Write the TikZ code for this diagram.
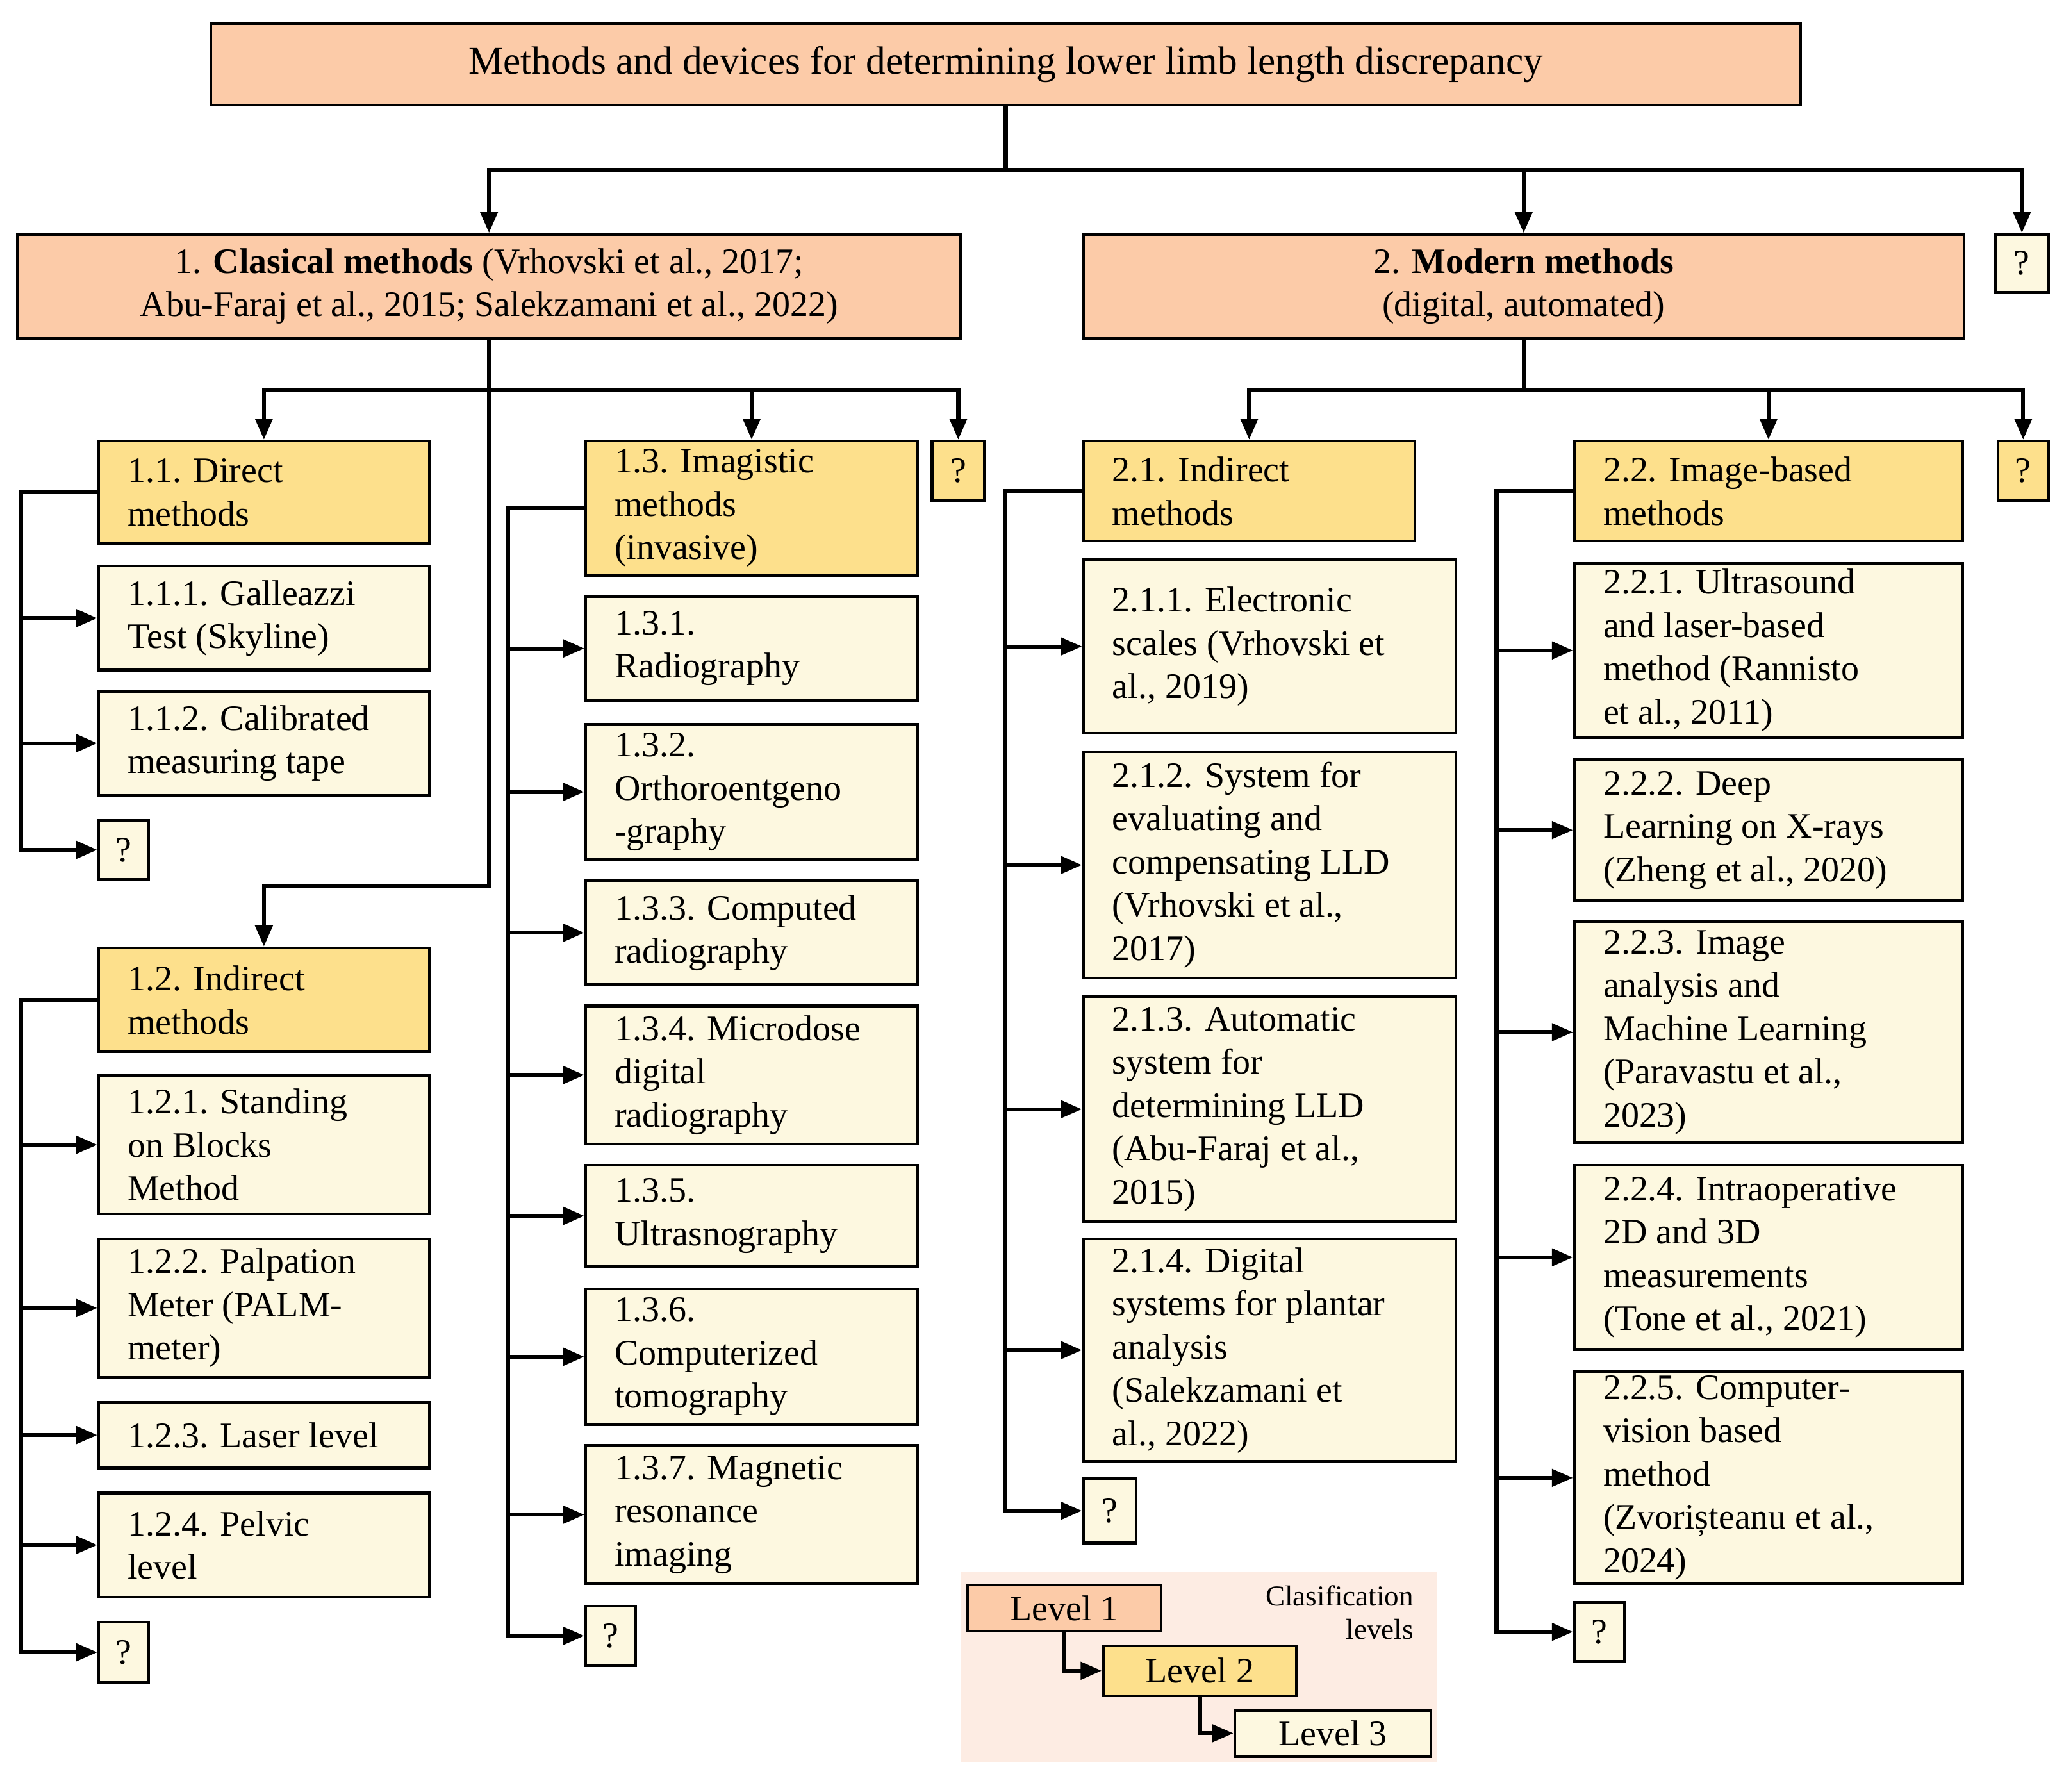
\documentclass[tikz,border=0pt]{standalone}
\usepackage{fontspec}
\setmainfont{Liberation Serif}
\usetikzlibrary{arrows.meta}
\definecolor{lone}{HTML}{FCCBA8}
\definecolor{ltwo}{HTML}{FDE08C}
\definecolor{lthree}{HTML}{FDF8E0}
\definecolor{legbg}{HTML}{FDECE3}
\tikzset{
  box/.style={rectangle,draw,line width=1.2pt,inner sep=0pt,font=\fontsize{15.5}{18.7}\selectfont},
  one/.style={box,fill=lone,align=center},
  two/.style={box,fill=ltwo,align=flush left},
  three/.style={box,fill=lthree,align=flush left},
  link/.style={line width=1.7pt},
  arr/.style={link,-{Triangle[length=0.32cm,width=0.26cm]}}
}
% name, style, x1, y1, x2, y2, text
\newcommand\bx[7]{\node[#2,minimum width={(#5-#3)*0.02cm},minimum height={(#6-#4)*0.02cm},
  text width={(#5-#3-44)*0.02cm}] (#1) at ({(#3+#5)/2},{(#4+#6)/2}) {#7};}
\newcommand\qm[6]{\node[#2,minimum width={(#5-#3)*0.02cm},minimum height={(#6-#4)*0.02cm},align=center] (#1) at ({(#3+#5)/2},{(#4+#6)/2}) {?};}

\begin{document}
\begin{tikzpicture}[x=0.02cm,y=-0.02cm]
  \useasboundingbox (0,0) rectangle (1568,1361);
  % level 1
  \node[one,minimum width={1208*0.02cm},minimum height={62*0.02cm},font=\fontsize{17}{20}\selectfont] (title) at (764,49) {Methods and devices for determining lower limb length discrepancy};
  \node[one,minimum width={717*0.02cm},minimum height={79*0.02cm}] (cl) at (371.5,217.5) {1. \textbf{Clasical methods} (Vrhovski et al., 2017;\\ Abu-Faraj et al., 2015; Salekzamani et al., 2022)};
  \node[one,minimum width={669*0.02cm},minimum height={79*0.02cm}] (mo) at (1157.5,217.5) {2. \textbf{Modern methods}\\ (digital, automated)};
  \qm{q0}{three}{1516}{178}{1556}{222}
  % level 2
  \bx{n11}{two}{75}{335}{326}{413}{1.1. Direct\\ methods}
  \bx{n12}{two}{75}{720}{326}{799}{1.2. Indirect\\ methods}
  \bx{n13}{two}{445}{335}{697}{437}{1.3. Imagistic\\ methods\\ (invasive)}
  \qm{q1}{two}{708}{335}{748}{380}
  \bx{n21}{two}{823}{335}{1075}{411}{2.1. Indirect\\ methods}
  \bx{n22}{two}{1196}{335}{1491}{411}{2.2. Image-based\\ methods}
  \qm{q2}{two}{1518}{335}{1556}{380}
  % level 3
  \bx{n111}{three}{75}{430}{326}{509}{1.1.1. Galleazzi\\ Test (Skyline)}
  \bx{n112}{three}{75}{525}{326}{604}{1.1.2. Calibrated\\ measuring tape}
  \qm{q11}{three}{75}{623}{113}{668}
  \bx{n121}{three}{75}{817}{326}{922}{1.2.1. Standing\\ on Blocks\\ Method}
  \bx{n122}{three}{75}{941}{326}{1046}{1.2.2. Palpation\\ Meter (PALM-\\ meter)}
  \bx{n123}{three}{75}{1065}{326}{1115}{1.2.3. Laser level}
  \bx{n124}{three}{75}{1134}{326}{1213}{1.2.4. Pelvic\\ level}
  \qm{q12}{three}{75}{1232}{113}{1278}
  \bx{n131}{three}{445}{453}{697}{532}{1.3.1.\\ Radiography}
  \bx{n132}{three}{445}{550}{697}{653}{1.3.2.\\ Orthoroentgeno\\ -graphy}
  \bx{n133}{three}{445}{669}{697}{748}{1.3.3. Computed\\ radiography}
  \bx{n134}{three}{445}{764}{697}{869}{1.3.4. Microdose\\ digital\\ radiography}
  \bx{n135}{three}{445}{885}{697}{962}{1.3.5.\\ Ultrasnography}
  \bx{n136}{three}{445}{979}{697}{1082}{1.3.6.\\ Computerized\\ tomography}
  \bx{n137}{three}{445}{1098}{697}{1203}{1.3.7. Magnetic\\ resonance\\ imaging}
  \qm{q13}{three}{445}{1220}{483}{1265}
  \bx{n211}{three}{823}{425}{1106}{557}{2.1.1. Electronic\\ scales (Vrhovski et\\ al., 2019)}
  \bx{n212}{three}{823}{571}{1106}{743}{2.1.2. System for\\ evaluating and\\ compensating LLD\\ (Vrhovski et al.,\\ 2017)}
  \bx{n213}{three}{823}{757}{1106}{928}{2.1.3. Automatic\\ system for\\ determining LLD\\ (Abu-Faraj et al.,\\ 2015)}
  \bx{n214}{three}{823}{941}{1106}{1110}{2.1.4. Digital\\ systems for plantar\\ analysis\\ (Salekzamani et\\ al., 2022)}
  \qm{q21}{three}{823}{1123}{863}{1172}
  \bx{n221}{three}{1196}{428}{1491}{560}{2.2.1. Ultrasound\\ and laser-based\\ method (Rannisto\\ et al., 2011)}
  \bx{n222}{three}{1196}{577}{1491}{684}{2.2.2. Deep\\ Learning on X-rays\\ (Zheng et al., 2020)}
  \bx{n223}{three}{1196}{700}{1491}{868}{2.2.3. Image\\ analysis and\\ Machine Learning\\ (Paravastu et al.,\\ 2023)}
  \bx{n224}{three}{1196}{885}{1491}{1025}{2.2.4. Intraoperative\\ 2D and 3D\\ measurements\\ (Tone et al., 2021)}
  \bx{n225}{three}{1196}{1042}{1491}{1203}{2.2.5. Computer-\\ vision based\\ method\\ (Zvorișteanu et al.,\\ 2024)}
  \qm{q22}{three}{1196}{1217}{1234}{1262}

  % connectors, level 1
  \draw[link] (title.south) -- ++(0,48) coordinate (t0);
  \foreach \n in {cl,mo,q0} \draw[arr] (t0) -| (\n);
  % connectors, level 2
  \draw[link] (cl.south) -- ++(0,38) coordinate (t1);
  \foreach \n in {n11,n13,q1} \draw[arr] (t1) -| (\n);
  \draw[arr] (cl.south) -- ++(0,415) -| (n12);
  \draw[link] (mo.south) -- ++(0,38) coordinate (t2);
  \foreach \n in {n21,n22,q2} \draw[arr] (t2) -| (\n);
  % connectors, level 3
  \foreach \n in {n111,n112,q11} \draw[arr] (n11.west) -- ++(-58,0) |- (\n);
  \foreach \n in {n121,n122,n123,n124,q12} \draw[arr] (n12.west) -- ++(-58,0) |- (\n);
  \foreach \n in {n131,n132,n133,n134,n135,n136,n137,q13} \draw[arr] (n13.west) -- ++(-58,0) |- (\n);
  \foreach \n in {n211,n212,n213,n214,q21} \draw[arr] (n21.west) -- ++(-58,0) |- (\n);
  \foreach \n in {n221,n222,n223,n224,n225,q22} \draw[arr] (n22.west) -- ++(-58,0) |- (\n);

  % legend
  \fill[legbg] (730,1194) rectangle (1092,1338);
  \node[one,minimum width={147*0.02cm},minimum height={35*0.02cm}] (lv1) at (808.5,1221.5) {Level 1};
  \node[two,align=center,minimum width={147*0.02cm},minimum height={38*0.02cm}] (lv2) at (911.5,1269) {Level 2};
  \node[three,align=center,minimum width={149*0.02cm},minimum height={35*0.02cm}] (lv3) at (1012.5,1316.5) {Level 3};
  \node[align=right,anchor=north east,font=\fontsize{12.5}{14.5}\selectfont] (lgd) at (1080,1198) {Clasification\\ levels};
  \draw[arr] (lv1.south) |- (lv2);
  \draw[arr] (lv2.south) |- (lv3);
\end{tikzpicture}
\end{document}
